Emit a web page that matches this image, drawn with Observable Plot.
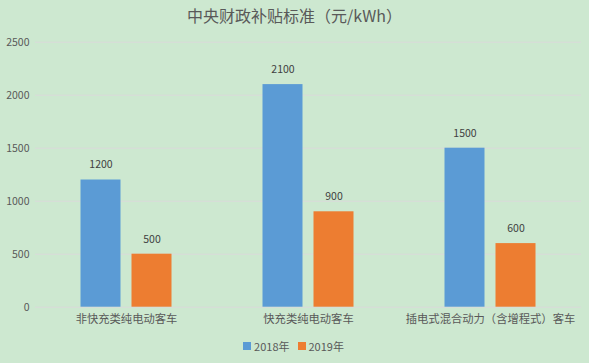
<!DOCTYPE html>
<html><head><meta charset="utf-8">
<script src="https://cdn.jsdelivr.net/npm/d3@7"></script>
<script src="https://cdn.jsdelivr.net/npm/@observablehq/plot@0.6"></script>
<style>
body{margin:0;background:#cde8d0;font-family:"Noto Sans CJK SC","Noto Sans",sans-serif;color:#595959;width:589px;height:363px;overflow:hidden}
#title{height:30px;line-height:30px;text-align:center;font-size:16px;color:#595959}
#legend{display:flex;justify-content:center;align-items:center;font-size:11px;height:22px;gap:4px;margin-left:-2px}
.sw{display:inline-block;width:8px;height:8px;margin-right:3px}
.it{display:flex;align-items:center;margin:0 2px}
#chart svg{display:block}
</style></head>
<body>
<div id="title">中央财政补贴标准（元/kWh）</div>
<div id="chart"></div>
<div id="legend"></div>
<script>
const categories = ["非快充类纯电动客车", "快充类纯电动客车", "插电式混合动力（含增程式）客车"];
const years = ["2018年", "2019年"];
const values2018 = [1200, 2100, 1500];
const values2019 = [500, 900, 600];
const yTicks = [0, 500, 1000, 1500, 2000, 2500];
const colors = ["#5b9bd5", "#ed7d31"];

const data = [];
categories.forEach((c, i) => {
  data.push({cat: c, year: years[0], value: values2018[i]});
  data.push({cat: c, year: years[1], value: values2019[i]});
});

const chart = Plot.plot({
  width: 589,
  height: 305,
  marginTop: 11.7,
  marginBottom: 28.3,
  marginLeft: 33.5,
  marginRight: 7.5,
  style: {background: "transparent", fontFamily: "'Noto Sans CJK SC','Noto Sans',sans-serif", color: "#595959"},
  fx: {domain: categories, padding: 0, label: null, axis: null},
  x: {domain: years, paddingInner: 0.21, paddingOuter: 0.865, axis: null},
  y: {domain: [0, 2500], ticks: yTicks, label: null, axis: null},
  color: {domain: years, range: colors},
  marks: [
    Plot.gridY(yTicks, {stroke: "#d9d9d9", strokeOpacity: 1}),
    Plot.axisY(yTicks, {tickSize: 0, tickPadding: 6, fontSize: 10.5, label: null, fill: "#595959", tickFormat: "d"}),
    Plot.barY(data, {fx: "cat", x: "year", y: "value", fill: "year"}),
    Plot.text(data, {fx: "cat", x: "year", y: "value", text: d => String(d.value), dy: -15, fontSize: 10.5, fill: "#404040"}),
    Plot.axisFx({anchor: "bottom", tickSize: 0, tickPadding: 8, fontSize: 11.3, label: null, fill: "#595959"})
  ]
});
document.getElementById("chart").appendChild(chart);

const lg = document.getElementById("legend");
years.forEach((y, i) => {
  const it = document.createElement("span");
  it.className = "it";
  it.innerHTML = `<span class="sw" style="background:${colors[i]}"></span>${y}`;
  lg.appendChild(it);
});
</script>
</body></html>
